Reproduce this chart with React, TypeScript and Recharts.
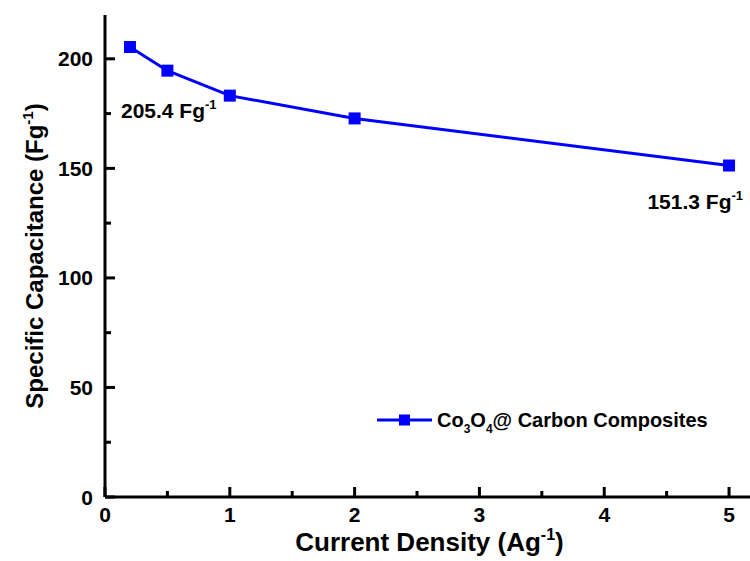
import { LineChart, Line, XAxis, YAxis, Legend, LabelList } from "recharts";

const currentDensity = [0.2, 0.5, 1, 2, 5];
const capacitance = [205.4, 194.6, 183.2, 172.8, 151.3];
const xTicks = [0, 0.5, 1, 1.5, 2, 2.5, 3, 3.5, 4, 4.5, 5];
const yTicks = [0, 25, 50, 75, 100, 125, 150, 175, 200];
const noteLabels = ["205.4 Fg", "", "", "", "151.3 Fg"];
const seriesName = "Co3O4@ Carbon Composites";

const data = currentDensity.map((x, i) => ({ x, y: capacitance[i], note: noteLabels[i] }));

const FONT = "'Liberation Sans', Arial, sans-serif";
const BLUE = "#0000ff";

// ticks point into the plot, minor ones are shorter and unlabelled
const XTick = ({ x, y, payload }: any) => {
  const major = Number.isInteger(payload.value);
  return (
    <g>
      <line x1={x} x2={x} y1={y} y2={y - (major ? 10 : 6)} stroke="#000" strokeWidth={3} />
      {major && (
        <text x={x} y={y + 25} textAnchor="middle" fontFamily={FONT} fontWeight="bold" fontSize={21} fill="#000">
          {payload.value}
        </text>
      )}
    </g>
  );
};

const YTick = ({ x, y, payload }: any) => {
  const major = payload.value % 50 === 0;
  return (
    <g>
      <line x1={x} x2={x + (major ? 10 : 6)} y1={y} y2={y} stroke="#000" strokeWidth={3} />
      {major && (
        <text x={x - 12} y={y + 7.5} textAnchor="end" fontFamily={FONT} fontWeight="bold" fontSize={21} fill="#000">
          {payload.value}
        </text>
      )}
    </g>
  );
};

const XTitle = ({ viewBox }: any) => (
  <text x={viewBox.x + viewBox.width / 2} y={viewBox.y + 54} textAnchor="middle" fontFamily={FONT} fontWeight="bold" fontSize={26} fill="#000">
    Current Density (Ag
    <tspan dy={-11} fontSize={16}>-1</tspan>
    <tspan dy={11}>)</tspan>
  </text>
);

const YTitle = ({ viewBox }: any) => {
  const cx = 43;
  const cy = viewBox.y + viewBox.height / 2;
  return (
    <text x={cx} y={cy} transform={`rotate(-90 ${cx} ${cy})`} textAnchor="middle" fontFamily={FONT} fontWeight="bold" fontSize={24} fill="#000">
      Specific Capacitance (Fg
      <tspan dy={-10} fontSize={15}>-1</tspan>
      <tspan dy={10}>)</tspan>
    </text>
  );
};

const Note = ({ x, y, value, index }: any) => {
  if (!value) return null;
  const first = index === 0;
  return (
    <text
      x={first ? x - 9 : x + 14}
      y={first ? y + 71 : y + 43}
      textAnchor={first ? "start" : "end"}
      fontFamily={FONT}
      fontWeight="bold"
      fontSize={21}
      fill="#000"
    >
      {value}
      <tspan dy={-9} fontSize={13}>-1</tspan>
    </text>
  );
};

const LegendBox = () => (
  <svg width={360} height={30} style={{ display: "block" }}>
    <line x1={0} x2={55} y1={13} y2={13} stroke={BLUE} strokeWidth={3} />
    <rect x={22} y={7.5} width={11} height={11} fill={BLUE} />
    <text x={60} y={20} fontFamily={FONT} fontWeight="bold" fontSize={20} fill="#000">
      Co<tspan dy={6} fontSize={12}>3</tspan>
      <tspan dy={-6}>O</tspan>
      <tspan dy={6} fontSize={12}>4</tspan>
      <tspan dy={-6}>@ Carbon Composites</tspan>
    </text>
  </svg>
);

const Square = (props: any) => {
  const { cx, cy, index } = props;
  return <rect key={`sq-${index}`} x={cx - 6} y={cy - 6} width={12} height={12} fill={BLUE} />;
};

export default function App() {
  return (
    <div style={{ position: "absolute", left: 0, top: 0, width: 750, height: 561, overflow: "hidden", background: "#fff" }}>
      <LineChart width={770} height={561} data={data} margin={{ top: 15, right: 16, bottom: 0, left: 0 }}>
        <XAxis
          dataKey="x"
          type="number"
          domain={[0, 5.2]}
          ticks={xTicks}
          interval={0}
          height={64}
          tickSize={0}
          tickMargin={0}
          tickLine={false}
          axisLine={{ stroke: "#000", strokeWidth: 3 }}
          tick={<XTick />}
          label={{ content: <XTitle /> }}
        />
        <XAxis
          xAxisId="top"
          orientation="top"
          type="number"
          domain={[0, 5.2]}
          height={0}
          tick={false}
          tickLine={false}
          axisLine={{ stroke: "#000", strokeWidth: 3 }}
        />
        <YAxis
          type="number"
          domain={[0, 220]}
          ticks={yTicks}
          interval={0}
          width={105}
          tickSize={0}
          tickMargin={0}
          tickLine={false}
          axisLine={{ stroke: "#000", strokeWidth: 3 }}
          tick={<YTick />}
          label={{ content: <YTitle /> }}
        />
        <Legend
          verticalAlign="middle"
          align="center"
          layout="horizontal"
          wrapperStyle={{ left: 377, top: 407, width: 360 }}
          content={<LegendBox />}
        />
        <Line
          dataKey="y"
          name={seriesName}
          type="linear"
          stroke={BLUE}
          strokeWidth={3}
          dot={<Square />}
          activeDot={false}
          isAnimationActive={false}
        >
          <LabelList dataKey="note" content={<Note />} />
        </Line>
      </LineChart>
    </div>
  );
}
